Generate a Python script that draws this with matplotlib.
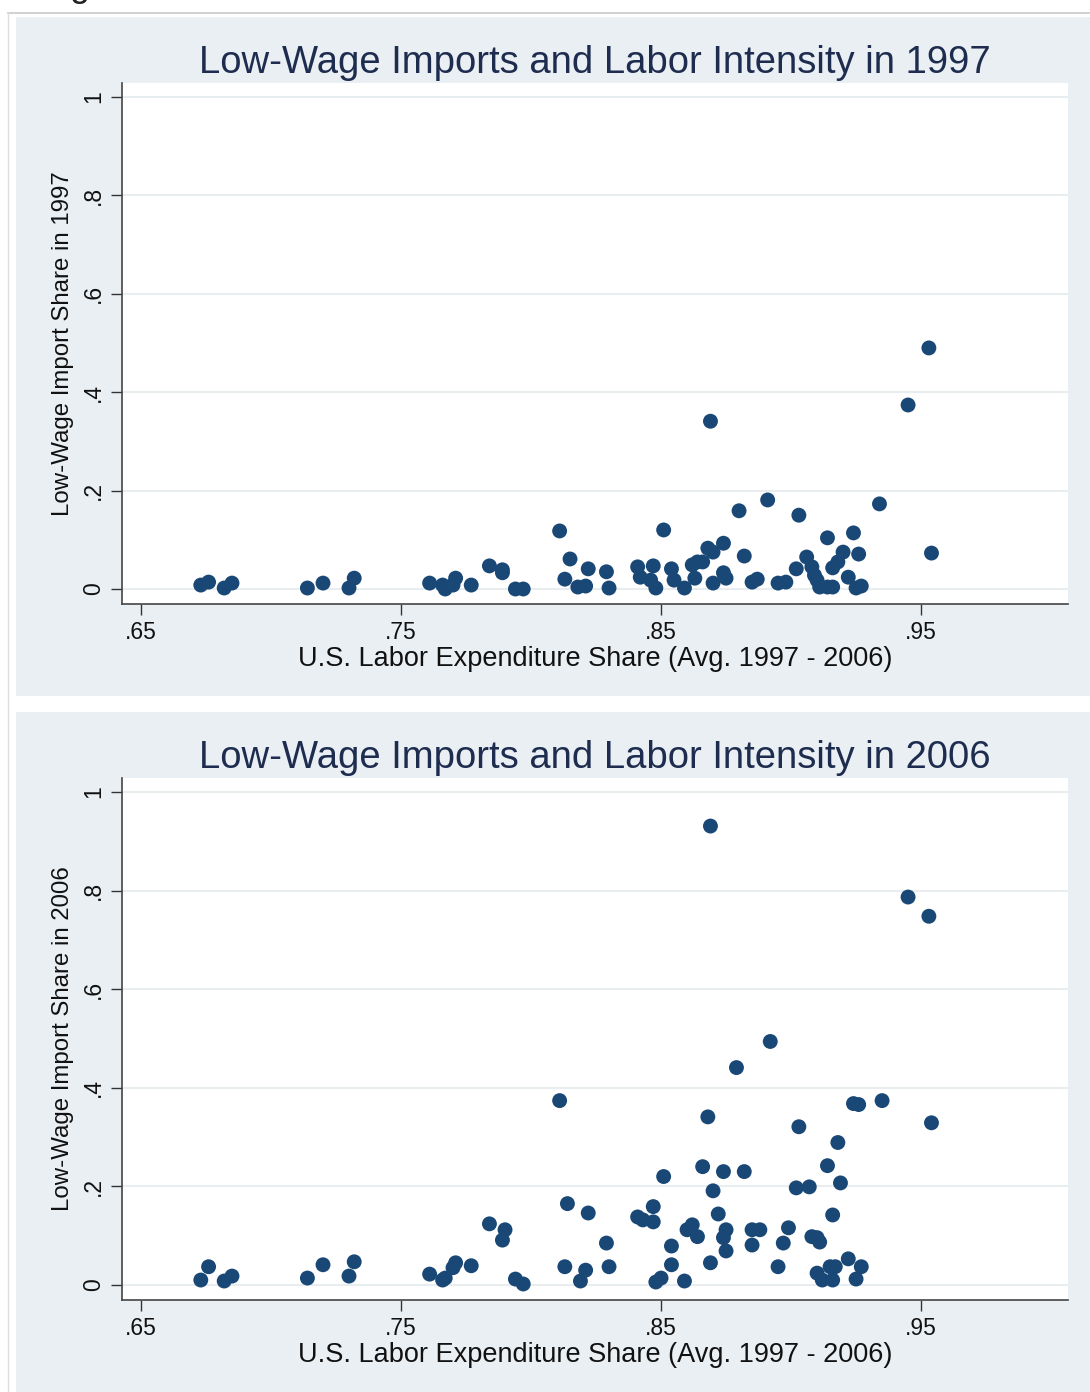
import matplotlib.pyplot as plt
from matplotlib.patches import Rectangle
from matplotlib.lines import Line2D

plt.rcParams['font.family'] = ['Liberation Sans', 'DejaVu Sans']

# 1997 panel
labor_1997 = [0.673, 0.676, 0.682, 0.685, 0.714, 0.720, 0.732, 0.730, 0.761, 0.766,
              0.767, 0.770, 0.771, 0.777, 0.784, 0.789, 0.789, 0.794, 0.797, 0.811,
              0.815, 0.813, 0.818, 0.821, 0.822, 0.829, 0.830, 0.841, 0.842, 0.847,
              0.848, 0.846, 0.851, 0.854, 0.855, 0.859, 0.862, 0.864, 0.866, 0.863,
              0.868, 0.870, 0.874, 0.870, 0.874, 0.875, 0.880, 0.882, 0.885, 0.887,
              0.891, 0.895, 0.898, 0.902, 0.903, 0.906, 0.908, 0.909, 0.910, 0.911,
              0.914, 0.916, 0.914, 0.916, 0.918, 0.920, 0.924, 0.922, 0.926, 0.925,
              0.927, 0.934, 0.954, 0.869, 0.945, 0.953]
share_1997 = [0.008, 0.014, 0.002, 0.012, 0.002, 0.012, 0.022, 0.002, 0.012, 0.008,
              0.000, 0.008, 0.022, 0.008, 0.047, 0.039, 0.033, 0.000, 0.000, 0.118,
              0.061, 0.020, 0.004, 0.006, 0.041, 0.035, 0.002, 0.045, 0.024, 0.047,
              0.002, 0.018, 0.120, 0.041, 0.018, 0.002, 0.049, 0.055, 0.055, 0.022,
              0.083, 0.075, 0.093, 0.012, 0.033, 0.022, 0.159, 0.067, 0.014, 0.020,
              0.181, 0.012, 0.014, 0.041, 0.150, 0.065, 0.045, 0.028, 0.018, 0.004,
              0.004, 0.004, 0.104, 0.043, 0.055, 0.075, 0.114, 0.024, 0.071, 0.002,
              0.006, 0.173, 0.073, 0.341, 0.374, 0.490]

# 2006 panel
labor_2006 = [0.673, 0.676, 0.682, 0.685, 0.714, 0.720, 0.732, 0.730, 0.761, 0.766,
              0.767, 0.770, 0.771, 0.777, 0.784, 0.790, 0.789, 0.794, 0.797, 0.811,
              0.814, 0.813, 0.822, 0.821, 0.819, 0.829, 0.830, 0.841, 0.843, 0.847,
              0.847, 0.851, 0.854, 0.854, 0.848, 0.850, 0.859, 0.860, 0.862, 0.864,
              0.866, 0.868, 0.869, 0.870, 0.872, 0.874, 0.875, 0.874, 0.875, 0.882,
              0.885, 0.885, 0.888, 0.895, 0.897, 0.899, 0.902, 0.903, 0.907, 0.908,
              0.910, 0.911, 0.910, 0.912, 0.915, 0.916, 0.917, 0.914, 0.916, 0.918,
              0.919, 0.922, 0.925, 0.927, 0.924, 0.926, 0.935, 0.954, 0.869, 0.945,
              0.953, 0.892, 0.879]
share_2006 = [0.010, 0.037, 0.008, 0.018, 0.014, 0.041, 0.047, 0.018, 0.022, 0.010,
              0.014, 0.035, 0.045, 0.039, 0.124, 0.112, 0.091, 0.012, 0.002, 0.374,
              0.165, 0.037, 0.146, 0.030, 0.008, 0.085, 0.037, 0.138, 0.132, 0.128,
              0.159, 0.220, 0.079, 0.041, 0.006, 0.014, 0.008, 0.112, 0.122, 0.098,
              0.240, 0.341, 0.045, 0.191, 0.144, 0.230, 0.112, 0.096, 0.069, 0.230,
              0.081, 0.112, 0.112, 0.037, 0.085, 0.116, 0.197, 0.321, 0.199, 0.098,
              0.096, 0.087, 0.024, 0.010, 0.037, 0.010, 0.037, 0.242, 0.142, 0.289,
              0.207, 0.053, 0.012, 0.037, 0.368, 0.366, 0.374, 0.329, 0.931, 0.787,
              0.748, 0.494, 0.441]

years = ['1997', '2006']
xticks = [0.65, 0.75, 0.85, 0.95]
xtick_labels = ['.65', '.75', '.85', '.95']
yticks = [0, 0.2, 0.4, 0.6, 0.8, 1]
ytick_labels = ['0', '.2', '.4', '.6', '.8', '1']

W, H = 1090, 1392
fig = plt.figure(figsize=(W / 100, H / 100), dpi=100, facecolor='white')

panel_bg = '#eaeff3'
dot = '#1a4876'

# panel backgrounds (pixel boxes -> figure fractions)
for top, bottom in [(17, 696), (712, 1392)]:
    fig.patches.append(Rectangle((16 / W, 1 - bottom / H), 1 - 16 / W, (bottom - top) / H,
                                 transform=fig.transFigure, facecolor=panel_bg,
                                 edgecolor='none', zorder=-5))
# thin outer frame
fig.lines.append(Line2D([8 / W, 1], [1 - 13 / H] * 2, transform=fig.transFigure,
                        color='#c9c9c9', lw=1.2, zorder=-4))
fig.lines.append(Line2D([8 / W] * 2, [0, 1 - 13 / H], transform=fig.transFigure,
                        color='#dddddd', lw=1.0, zorder=-4))
# clipped caption from the page above
fig.text(40 / W, 1 + 4 / H, 'Figure 1', fontsize=26, va='baseline', color='#222222')

axes_boxes = [(83, 604), (778, 1300)]
data = [(labor_1997, share_1997), (labor_2006, share_2006)]

for (top, bottom), (xs, ys), yr in zip(axes_boxes, data, years):
    ax = fig.add_axes([122 / W, 1 - bottom / H, (1068 - 122) / W, (bottom - top) / H])
    ax.set_facecolor('white')
    ax.scatter(xs, ys, s=115, color=dot, edgecolors='none', zorder=3)

    ax.set_xlim(0.6427, 1.0065)
    ax.set_ylim(-0.0305, 1.0285)
    ax.set_xticks(xticks)
    ax.set_xticklabels(xtick_labels)
    ax.set_yticks(yticks)
    ax.set_yticklabels(ytick_labels, rotation=90, va='center')
    ax.tick_params(axis='both', length=8, width=1, color='#333333',
                   labelsize=16.5, labelcolor='#111111', pad=4)

    ax.yaxis.grid(True, color='#e8eef0', lw=1.5)
    ax.set_axisbelow(True)
    for side in ['top', 'right']:
        ax.spines[side].set_visible(False)
    for side in ['left', 'bottom']:
        ax.spines[side].set_color('#444444')
        ax.spines[side].set_linewidth(1.2)

    ax.set_title(f'Low-Wage Imports and Labor Intensity in {yr}', fontsize=27.5,
                 color='#1e2d4f', pad=7)
    ax.set_xlabel('U.S. Labor Expenditure Share (Avg. 1997 - 2006)', fontsize=19.5,
                  color='#111111', labelpad=2)
    ax.set_ylabel(f'Low-Wage Import Share in {yr}', fontsize=17.3, color='#111111',
                  labelpad=6)

fig.savefig('out.png', dpi=100, facecolor='white')
